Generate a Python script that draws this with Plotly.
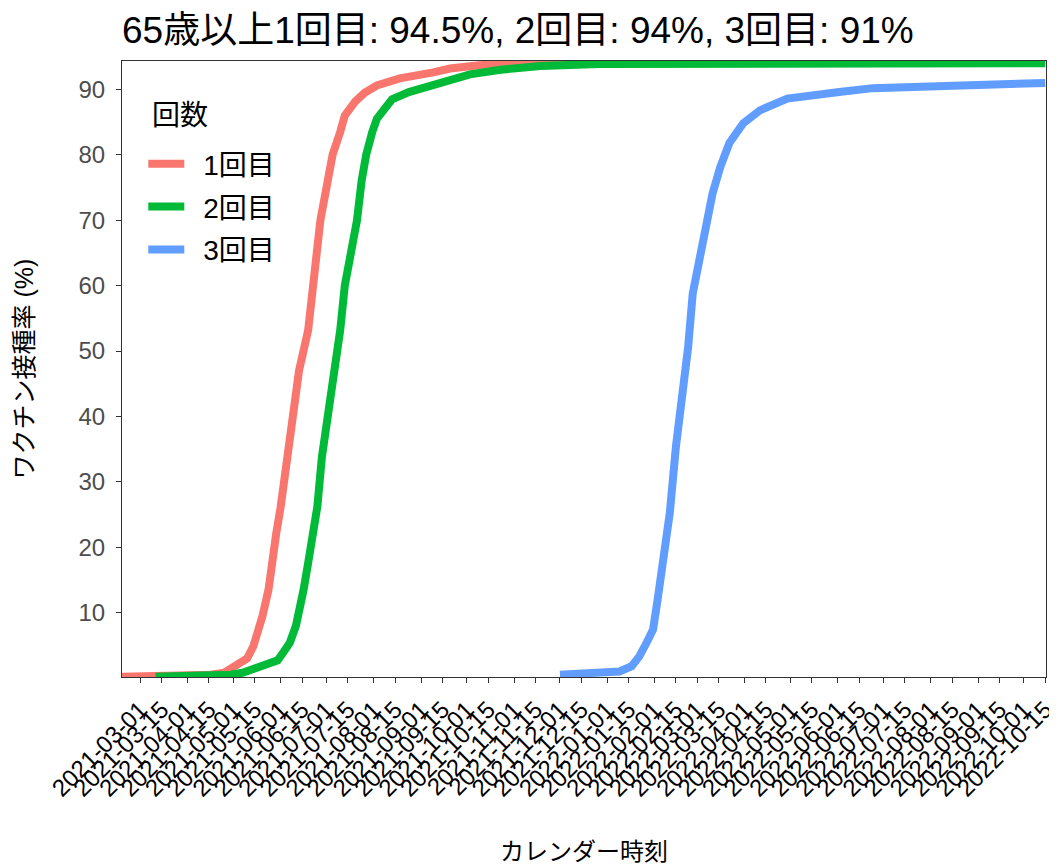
import plotly.graph_objects as go
import pandas as pd

# ---- data ----
dose1_dates = ["2021-02-17", "2021-03-31", "2021-04-16", "2021-04-25", "2021-04-30", "2021-05-05",
               "2021-05-10", "2021-05-14", "2021-05-17", "2021-05-20", "2021-05-24", "2021-05-26",
               "2021-05-29", "2021-06-01", "2021-06-05", "2021-06-08", "2021-06-13", "2021-06-19",
               "2021-06-22", "2021-06-27", "2021-07-01", "2021-07-05", "2021-07-10", "2021-07-13",
               "2021-07-20", "2021-07-26", "2021-08-03", "2021-08-18", "2021-09-09", "2021-09-20",
               "2021-10-09", "2021-11-10", "2021-12-27", "2022-10-15"]
dose1_vals = [0.2, 0.3, 0.5, 0.8, 1.5, 2.0,
              3.0, 4.8, 7.0, 9.4, 13.5, 17.6,
              22.0, 26.2, 32.9, 39.5, 47.0, 53.2,
              60.0, 70.0, 75.0, 80.0, 83.5, 86.0,
              88.2, 89.5, 90.6, 91.7, 92.6, 93.2,
              93.7, 94.2, 94.3, 94.5]

dose2_dates = ["2021-03-11", "2021-04-09", "2021-04-29", "2021-05-07", "2021-05-18", "2021-05-25",
               "2021-05-30", "2021-06-03", "2021-06-07", "2021-06-11", "2021-06-13", "2021-06-16",
               "2021-06-19", "2021-06-22", "2021-06-25", "2021-06-28", "2021-07-02", "2021-07-05",
               "2021-07-10", "2021-07-13", "2021-07-17", "2021-07-21", "2021-07-24", "2021-07-27",
               "2021-07-31", "2021-08-03", "2021-08-08", "2021-08-13", "2021-08-24", "2021-09-09",
               "2021-09-20", "2021-10-03", "2021-10-23", "2021-11-18", "2021-12-27", "2022-10-15"]
dose2_vals = [0.2, 0.3, 0.5, 0.8, 1.6, 2.2,
              2.7, 4.0, 5.4, 8.0, 10.0, 13.5,
              17.6, 22.0, 26.2, 33.8, 39.9, 45.5,
              53.2, 60.0, 65.0, 70.0, 76.0, 80.0,
              83.5, 85.5, 87.0, 88.5, 89.6, 90.8,
              91.6, 92.3, 93.0, 93.6, 93.9, 94.0]

dose3_dates = ["2021-12-01", "2022-01-09", "2022-01-17", "2022-01-22", "2022-01-27", "2022-01-31",
               "2022-02-03", "2022-02-06", "2022-02-11", "2022-02-15", "2022-02-19", "2022-02-23",
               "2022-02-26", "2022-03-03", "2022-03-07", "2022-03-11", "2022-03-16", "2022-03-22",
               "2022-03-31", "2022-04-11", "2022-04-29", "2022-05-12", "2022-06-02", "2022-06-24",
               "2022-08-07", "2022-09-20", "2022-10-15"]
dose3_vals = [0.5, 1.0, 1.8, 3.3, 5.5, 7.4,
              12.0, 17.6, 25.3, 35.4, 43.0, 50.6,
              58.8, 65.0, 70.0, 74.1, 78.1, 81.8,
              84.8, 86.8, 88.6, 88.9, 89.6, 90.2,
              90.5, 90.8, 91.0]

series_names = ["1回目", "2回目", "3回目"]
series_colors = ["#F8766D", "#00BA38", "#619CFF"]

tick_dates = [d.strftime("%Y-%m-%d") for d in pd.date_range("2021-03-01", "2022-10-15", freq="SMS")]
y_ticks = [10, 20, 30, 40, 50, 60, 70, 80, 90]

title_text = "65歳以上1回目: 94.5%, 2回目: 94%, 3回目: 91%"
legend_title = "回数"

FONT = "Liberation Sans, Arial, Noto Sans CJK JP, sans-serif"

# page has an 8px body margin -> figure is 8px smaller, everything shifted by -8
W, H = 1049, 857
ML, MT, MR, MB = 114, 53, 11, 188
PW, PH = W - ML - MR, H - MT - MB

fig = go.Figure()
for name, color, xs, ys in zip(series_names, series_colors,
                               [dose1_dates, dose2_dates, dose3_dates],
                               [dose1_vals, dose2_vals, dose3_vals]):
    fig.add_trace(go.Scatter(x=xs, y=ys, mode="lines", name="\u2002" + name, legendgroup=name,
                             line=dict(color=color, width=8)))

fig.update_layout(
    width=W, height=H,
    margin=dict(l=ML, r=MR, t=MT, b=MB, autoexpand=False),
    paper_bgcolor="white", plot_bgcolor="white",
    font=dict(family=FONT, color="black"),
    title=dict(text=title_text, x=(122 - 8) / W, xanchor="left", xref="container",
               y=1 - 22 / H, yanchor="middle", yref="container",
               font=dict(size=37, color="black", family=FONT)),
    legend=dict(x=(142 - 6.7 - ML) / PW, y=(H - MB - 131) / PH, xanchor="left", yanchor="top",
                bgcolor="rgba(0,0,0,0)", tracegroupgap=3.5, itemwidth=36,
                font=dict(size=28, family=FONT, color="black")),
    showlegend=True,
    annotations=[dict(text=legend_title, xref="paper", yref="paper",
                      x=(142 - ML) / PW, y=(H - MB - 107) / PH, xanchor="left", yanchor="middle",
                      showarrow=False, font=dict(size=28, family=FONT, color="black"))],
)

fig.update_xaxes(
    type="date", range=["2021-02-17", "2022-10-15 12:00"], automargin=False,
    tickmode="array", tickvals=tick_dates, ticktext=tick_dates, tickangle=-45,
    tickfont=dict(size=24, color="black", family=FONT), ticklabelstandoff=3,
    ticklabeloverflow="allow",
    ticks="outside", ticklen=5, tickcolor="#333333", tickwidth=1,
    showline=True, mirror=True, linecolor="#333333", linewidth=1,
    showgrid=False, zeroline=False,
    title=dict(text="カレンダー時刻", font=dict(size=24, color="black", family=FONT), standoff=44),
)
fig.update_yaxes(
    range=[0.15, 94.35], automargin=False,
    tickmode="array", tickvals=y_ticks,
    tickfont=dict(size=24, color="#4D4D4D", family=FONT), ticklabelstandoff=6,
    ticks="outside", ticklen=5, tickcolor="#333333", tickwidth=1,
    showline=True, mirror=True, linecolor="#333333", linewidth=1,
    showgrid=False, zeroline=False,
    title=dict(text="ワクチン接種率 (%)", font=dict(size=25, color="black", family=FONT), standoff=37),
)

fig.write_html("out.html")
